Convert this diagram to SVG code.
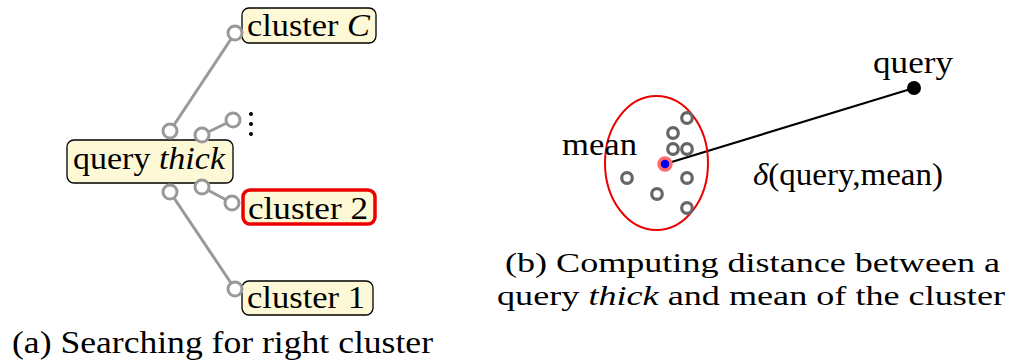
<svg xmlns="http://www.w3.org/2000/svg" width="1010" height="364" viewBox="0 0 1010 364">
<style>
.it{font-style:italic}
.box{fill:#fdf8d6;stroke:#000;stroke-width:1.3}
.sel{fill:#fdf8d6;stroke:#ee0000;stroke-width:3.5}
.conn{stroke:#999;stroke-width:3;fill:none}
.port{fill:#fff;stroke:#999;stroke-width:3}
.pt{fill:#fff;stroke:#666;stroke-width:3.2}
</style>
<rect width="1010" height="364" fill="#fff"/>
<g id="connectors">
<line class="conn" x1="170" y1="131" x2="235" y2="33"/>
<line class="conn" x1="202" y1="135" x2="233" y2="120"/>
<line class="conn" x1="202" y1="187" x2="232" y2="203"/>
<line class="conn" x1="170" y1="192" x2="235" y2="289"/>
<line x1="665" y1="164" x2="914" y2="88" stroke="#000" stroke-width="2.2"/>
</g>
<g font-family="Liberation Serif, Times New Roman, serif" font-size="31" fill="#000">
<g id="query-thick">
<rect class="box" x="67" y="140" width="166" height="43" rx="7"/>
<text x="73" y="169" textLength="152" lengthAdjust="spacingAndGlyphs">query <tspan class="it">thick</tspan></text>
</g>
<g id="cluster-C">
<rect class="box" x="242" y="8" width="134" height="35" rx="7"/>
<text x="247" y="36" textLength="123" lengthAdjust="spacingAndGlyphs">cluster <tspan class="it">C</tspan></text>
</g>
<g id="cluster-2">
<rect class="sel" x="243" y="190" width="132" height="34" rx="7"/>
<text x="248" y="219" textLength="120" lengthAdjust="spacingAndGlyphs">cluster 2</text>
</g>
<g id="cluster-1">
<rect class="box" x="242" y="281" width="131" height="34" rx="7"/>
<text x="247" y="308" textLength="118" lengthAdjust="spacingAndGlyphs">cluster 1</text>
</g>
<g id="ports">
<circle class="port" cx="170" cy="131" r="7"/>
<circle class="port" cx="202" cy="135" r="7"/>
<circle class="port" cx="233" cy="120" r="7"/>
<circle class="port" cx="235" cy="33" r="7"/>
<circle class="port" cx="170" cy="192" r="7"/>
<circle class="port" cx="202" cy="187" r="7"/>
<circle class="port" cx="232" cy="203" r="7"/>
<circle class="port" cx="235" cy="289" r="7"/>
</g>
<g id="vdots">
<circle cx="251" cy="114" r="2" fill="#000"/>
<circle cx="251" cy="124" r="2" fill="#000"/>
<circle cx="251" cy="134" r="2" fill="#000"/>
</g>
<text id="caption-a" x="12" y="353" textLength="421" lengthAdjust="spacingAndGlyphs">(a) Searching for right cluster</text>
<g id="cluster">
<ellipse cx="656.5" cy="163" rx="51.5" ry="67" fill="none" stroke="#ee0000" stroke-width="2"/>
<circle class="pt" cx="687" cy="118" r="5.3"/>
<circle class="pt" cx="673" cy="133" r="5.3"/>
<circle class="pt" cx="673" cy="149" r="5.3"/>
<circle class="pt" cx="687" cy="149" r="5.3"/>
<circle class="pt" cx="627" cy="178" r="5.3"/>
<circle class="pt" cx="687" cy="178" r="5.3"/>
<circle class="pt" cx="657" cy="194" r="5.3"/>
<circle class="pt" cx="687" cy="208" r="5.3"/>
</g>
<g id="mean">
<circle cx="665" cy="164" r="6" fill="#0000ee" stroke="#ff6a6a" stroke-width="3.5"/>
<text x="562" y="155" textLength="75" lengthAdjust="spacingAndGlyphs">mean</text>
</g>
<g id="query">
<circle cx="914" cy="88" r="7" fill="#000"/>
<text x="873" y="73" textLength="80" lengthAdjust="spacingAndGlyphs">query</text>
</g>
<text id="delta-label" x="753" y="185" textLength="190" lengthAdjust="spacingAndGlyphs"><tspan class="it">δ</tspan>(query,mean)</text>
<g id="caption-b" font-size="28">
<text x="505" y="272" textLength="495" lengthAdjust="spacingAndGlyphs">(b) Computing distance between a</text>
<text x="497" y="305" textLength="508" lengthAdjust="spacingAndGlyphs">query <tspan class="it">thick</tspan> and mean of the cluster</text>
</g>
</g>
</svg>
